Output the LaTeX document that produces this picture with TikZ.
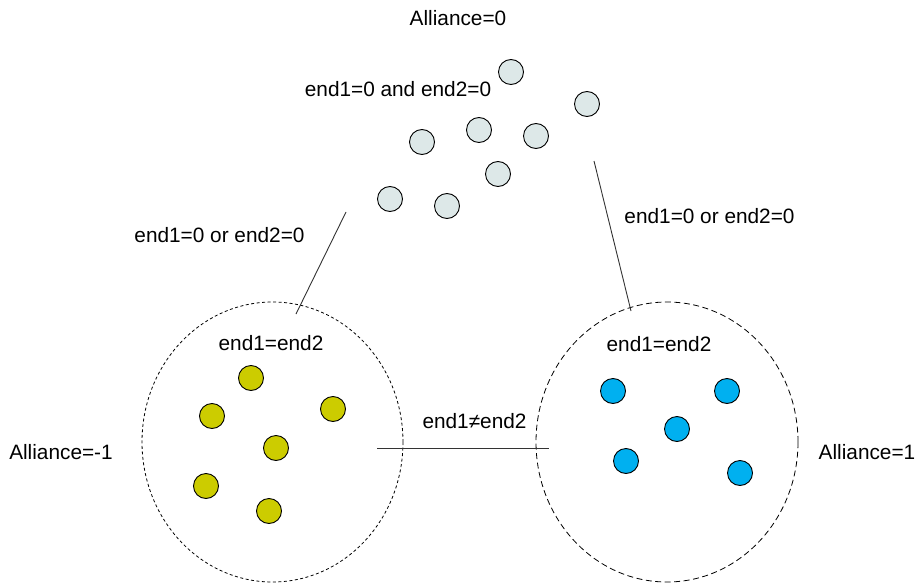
\documentclass[tikz,border=0pt]{standalone}
\usepackage{fontspec}
\setmainfont{Liberation Sans}
\usetikzlibrary{shapes.geometric}
\definecolor{greyball}{HTML}{DDE8E8}
\definecolor{yellowball}{HTML}{CCCC00}
\definecolor{blueball}{HTML}{00B0F0}
\definecolor{linec}{HTML}{333333}
\tikzset{
  ball/.style={circle, draw=black, line width=0.9pt, minimum size=25pt, inner sep=0pt},
  gball/.style={ball, fill=greyball},
  yball/.style={ball, fill=yellowball},
  bball/.style={ball, fill=blueball},
  lbl/.style={font=\fontsize{20.8}{24}\selectfont, inner sep=0pt, text=black},
  conn/.style={draw=linec, line width=0.9pt},
  groupA/.style={ellipse, draw=black, line width=0.8pt, dash pattern=on 3pt off 2.5pt, minimum width=261pt, minimum height=280pt, inner sep=0pt},
  groupB/.style={ellipse, draw=black, line width=0.8pt, dash pattern=on 6pt off 3.5pt, minimum width=262pt, minimum height=280pt, inner sep=0pt}
}
\begin{document}
\begin{tikzpicture}[x=1pt,y=-1pt]
\useasboundingbox (0,0) rectangle (915,583);
% ellipses
\node[groupA] (left) at (272.5,442) {};
\node[groupB] (right) at (667,442) {};
% grey balls
\node[gball] (g1) at (511,72) {};
\node[gball] (g2) at (587,104) {};
\node[gball] (g3) at (422,142) {};
\node[gball] (g4) at (479,130) {};
\node[gball] (g5) at (536,136) {};
\node[gball] (g6) at (498,174) {};
\node[gball] (g7) at (390,199) {};
\node[gball] (g8) at (447,206) {};
% yellow balls
\node[yball] (y1) at (251,378) {};
\node[yball] (y2) at (212,416) {};
\node[yball] (y3) at (333,409) {};
\node[yball] (y4) at (276,448) {};
\node[yball] (y5) at (206,486) {};
\node[yball] (y6) at (269,511) {};
% blue balls
\node[bball] (b1) at (613,391) {};
\node[bball] (b2) at (727,391) {};
\node[bball] (b3) at (677,429) {};
\node[bball] (b4) at (626,461) {};
\node[bball] (b5) at (740,473) {};
% connectors
\coordinate (la) at (346,212);
\coordinate (lb) at (296,314);
\coordinate (ra) at (594,161);
\coordinate (rb) at (631,311);
\coordinate (ma) at (377,448);
\coordinate (mb) at (549,448);
\draw[conn] (la) -- (lb);
\draw[conn] (ra) -- (rb);
\draw[conn] (ma) -- (mb);
% labels
\node[lbl] (t0) at (458,18) {Alliance=0};
\node[lbl] (t1) at (398,89) {end1=0 and end2=0};
\node[lbl] (t2) at (219.5,235) {end1=0 or end2=0};
\node[lbl] (t3) at (709.5,216) {end1=0 or end2=0};
\node[lbl] (t4) at (271,343) {end1=end2};
\node[lbl] (t5) at (659,344) {end1=end2};
\node[lbl] (t6) at (474.5,421) {end1≠end2};
\node[lbl] (t7) at (61,452) {Alliance=-1};
\node[lbl] (t8) at (867,452) {Alliance=1};
\end{tikzpicture}
\end{document}
